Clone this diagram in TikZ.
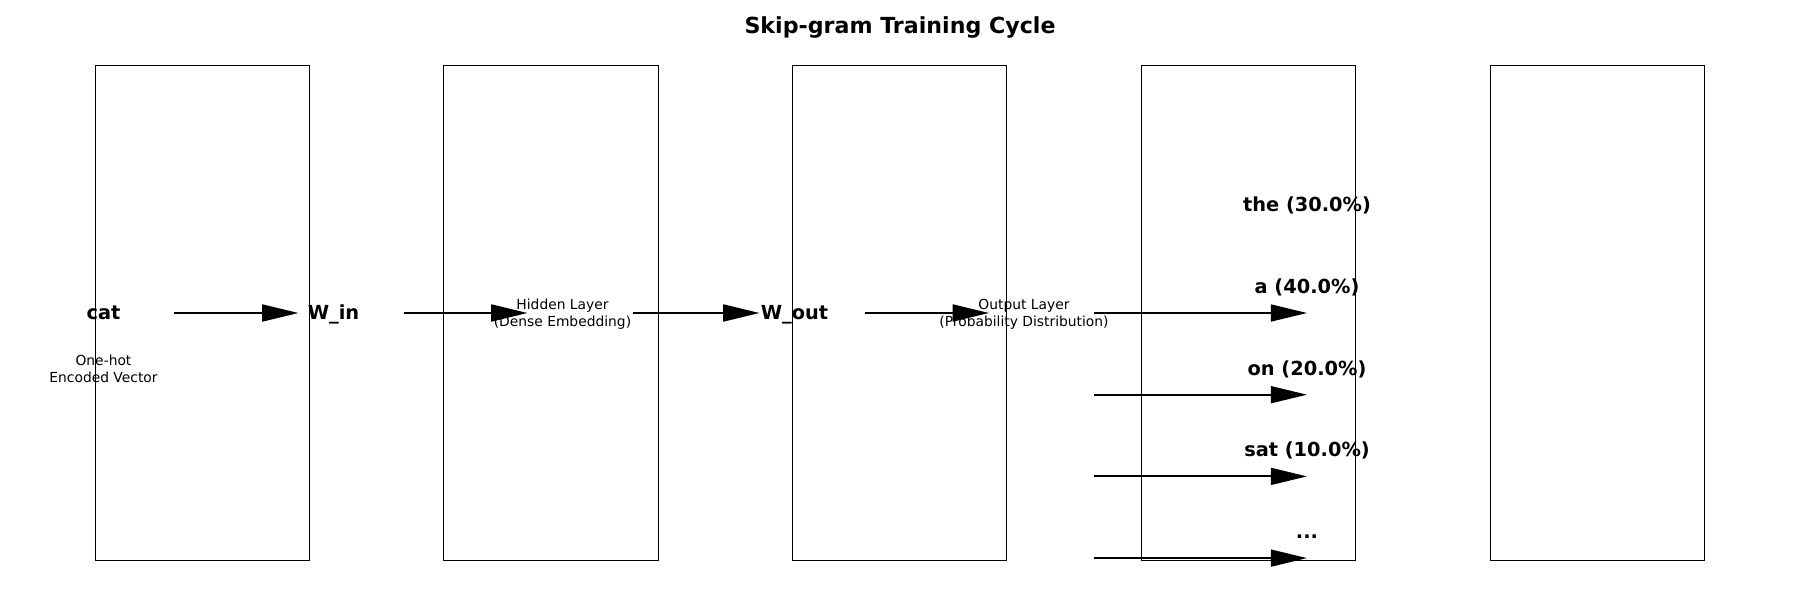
\documentclass[tikz,border=0pt]{standalone}
\usepackage{fontspec}
\setmainfont{DejaVu Sans}
\usetikzlibrary{arrows.meta}

\begin{document}
\begin{tikzpicture}[x=0.254mm,y=-0.254mm,
    stagebox/.style={draw=black,line width=0.254mm,rectangle,minimum width=54.36mm,minimum height=125.55mm,inner sep=0pt},
    boldlabel/.style={font=\fontsize{14pt}{16pt}\selectfont\bfseries,inner sep=0pt,text height=10.6pt,text depth=2.9pt},
    smalltext/.style={font=\fontsize{10pt}{12.5pt}\selectfont,align=center,inner sep=0pt},
    flowarrow/.style={-{Triangle[length=9.2mm,width=4.3mm]},line width=0.5mm,shorten <=18mm,shorten >=8.9mm},
    fanarrow/.style={flowarrow,shorten <=17.8mm,shorten >=0pt}]
    \useasboundingbox (0,0) rectangle (1800,600);

    % Title
    \node[font=\fontsize{16pt}{19pt}\selectfont\bfseries,inner sep=0pt,anchor=base] (title) at (900,33.7) {Skip-gram Training Cycle};

    % Stage frames
    \node[stagebox] (box1) at (202.3,312.85) {};
    \node[stagebox] (box2) at (551.0,312.85) {};
    \node[stagebox] (box3) at (899.7,312.85) {};
    \node[stagebox] (box4) at (1248.4,312.85) {};
    \node[stagebox] (box5) at (1597.1,312.85) {};

    % Input word and layers
    \node[boldlabel] (cat) at (103.5,314) {cat};
    \node[smalltext] (onehot) at (103.5,368.5) {One-hot\\Encoded Vector};
    \node[boldlabel] (win) at (333.5,314) {W\_in};
    \node[smalltext] (hidden) at (562.5,314.5) {Hidden Layer\\(Dense Embedding)};
    \node[boldlabel] (wout) at (794.5,314) {W\_out};
    \node[smalltext] (output) at (1024,314.5) {Output Layer\\(Probability Distribution)};

    % Context words
    \node[boldlabel] (the) at (1307,206.3) {the (30.0\%)};
    \node[boldlabel] (a) at (1307,288.0) {a (40.0\%)};
    \node[boldlabel] (on) at (1307,369.7) {on (20.0\%)};
    \node[boldlabel] (sat) at (1307,451.4) {sat (10.0\%)};
    \node[boldlabel] (more) at (1307,533.1) {...};

    % Forward flow
    \coordinate (flow) at (0,313);
    \draw[flowarrow] (cat.center |- flow) -- (win.center |- flow);
    \draw[flowarrow] (win.center |- flow) -- (hidden.center |- flow);
    \draw[flowarrow] (hidden.center |- flow) -- (wout.center |- flow);
    \draw[flowarrow] (wout.center |- flow) -- (output.center |- flow);

    % Fan-out to context words
    \coordinate (t1) at (1307,313.0);
    \coordinate (t2) at (1307,394.7);
    \coordinate (t3) at (1307,476.4);
    \coordinate (t4) at (1307,558.1);
    \draw[fanarrow] (output.center |- t1) -- (t1);
    \draw[fanarrow] (output.center |- t2) -- (t2);
    \draw[fanarrow] (output.center |- t3) -- (t3);
    \draw[fanarrow] (output.center |- t4) -- (t4);
\end{tikzpicture}
\end{document}
